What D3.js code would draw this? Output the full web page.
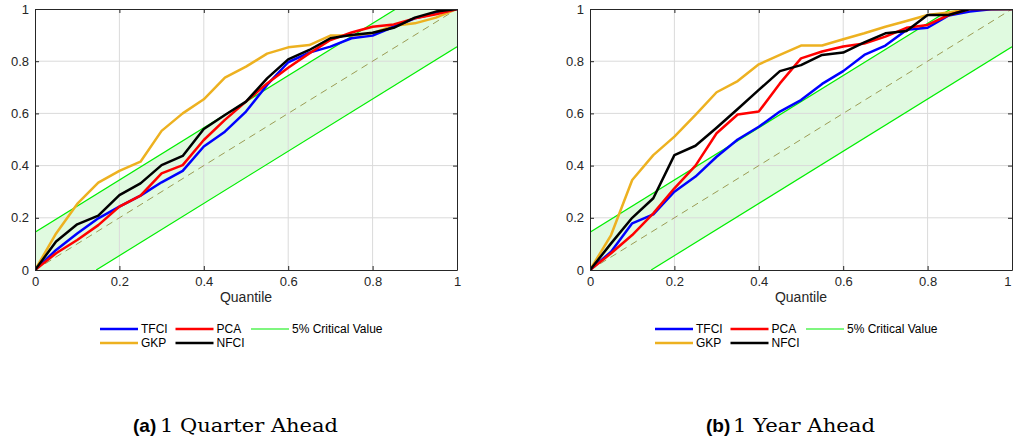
<!DOCTYPE html>
<html>
<head>
<meta charset="utf-8">
<script src="https://cdn.jsdelivr.net/npm/d3@7"></script>
<style>
  body { margin: 0; background: #fff; }
  svg { display: block; }
</style>
</head>
<body>
<svg id="chart" width="1013" height="442"></svg>
<script>
// Quantile grid shared by every curve
const quantiles = d3.range(0, 21).map(i => i / 20);

// Panel (a): 1 quarter ahead
const q1TFCI = [0, 0.077, 0.14, 0.198, 0.243, 0.285, 0.336, 0.38, 0.473, 0.53, 0.607, 0.709, 0.796, 0.833, 0.856, 0.888, 0.898, 0.932, 0.964, 0.983, 1];
const q1PCA  = [0, 0.064, 0.115, 0.172, 0.243, 0.285, 0.37, 0.402, 0.498, 0.575, 0.645, 0.715, 0.775, 0.83, 0.881, 0.91, 0.932, 0.941, 0.964, 0.98, 1];
const q1GKP  = [0, 0.14, 0.253, 0.335, 0.38, 0.415, 0.533, 0.6, 0.654, 0.737, 0.779, 0.829, 0.853, 0.862, 0.898, 0.898, 0.907, 0.936, 0.945, 0.967, 1];
const q1NFCI = [0, 0.109, 0.175, 0.208, 0.287, 0.332, 0.402, 0.437, 0.54, 0.594, 0.645, 0.734, 0.807, 0.843, 0.888, 0.9, 0.909, 0.928, 0.967, 0.99, 1];

// Panel (b): 1 year ahead
const y1TFCI = [0, 0.07, 0.179, 0.213, 0.3, 0.358, 0.434, 0.5, 0.549, 0.607, 0.651, 0.713, 0.762, 0.824, 0.86, 0.92, 0.928, 0.975, 0.99, 0.999, 1];
const y1PCA  = [0, 0.064, 0.134, 0.217, 0.313, 0.4, 0.524, 0.596, 0.607, 0.715, 0.811, 0.837, 0.856, 0.868, 0.894, 0.928, 0.939, 0.977, 1, 1, 1];
const y1GKP  = [0, 0.134, 0.345, 0.44, 0.511, 0.594, 0.681, 0.724, 0.788, 0.824, 0.86, 0.86, 0.884, 0.907, 0.932, 0.954, 0.977, 0.987, 1, 1, 1];
const y1NFCI = [0, 0.102, 0.2, 0.275, 0.44, 0.476, 0.545, 0.617, 0.69, 0.762, 0.785, 0.824, 0.833, 0.872, 0.907, 0.916, 0.977, 0.977, 1, 1, 1];

// 5% critical band half-width around the 45-degree line
const criticalValue = 0.145;

const tickValues = [0, 0.2, 0.4, 0.6, 0.8, 1];
const tickLabels = ["0", "0.2", "0.4", "0.6", "0.8", "1"];

const seriesColors = { TFCI: "#0000ff", PCA: "#ff0000", GKP: "#edb120", NFCI: "#000000" };
const criticalColor = "#00ee00";
const bandFill = "#e0fae0";

const panels = [
  { left: 35, caption: "1 Quarter Ahead", tag: "(a)", capX: 133, capW: 178,
    data: { TFCI: q1TFCI, PCA: q1PCA, GKP: q1GKP, NFCI: q1NFCI } },
  { left: 590, caption: "1 Year Ahead", tag: "(b)", capX: 706, capW: 142,
    data: { TFCI: y1TFCI, PCA: y1PCA, GKP: y1GKP, NFCI: y1NFCI } }
];

const plotW = 422, plotTop = 9, plotH = 261;
const svg = d3.select("#chart");
const axisColor = "#262626";
const fontSans = "'Liberation Sans', Arial, sans-serif";

panels.forEach((p, pi) => {
  const x = d3.scaleLinear().domain([0, 1]).range([p.left, p.left + plotW]);
  const y = d3.scaleLinear().domain([0, 1]).range([plotTop + plotH, plotTop]);
  const g = svg.append("g");

  const clipId = "clip" + pi;
  g.append("clipPath").attr("id", clipId).append("rect")
    .attr("x", x(0)).attr("y", y(1)).attr("width", plotW).attr("height", plotH);

  // critical-value band
  const band = [[0, 0], [0, criticalValue], [1 - criticalValue, 1], [1, 1], [1, 1 - criticalValue], [criticalValue, 0]];
  g.append("path")
    .attr("d", d3.line().x(d => x(d[0])).y(d => y(d[1]))(band) + "Z")
    .attr("fill", bandFill);

  // grid
  tickValues.slice(1, -1).forEach(t => {
    g.append("line").attr("x1", x(t)).attr("x2", x(t)).attr("y1", y(0)).attr("y2", y(1))
      .attr("stroke", "#dadada").attr("stroke-width", 1);
    g.append("line").attr("x1", x(0)).attr("x2", x(1)).attr("y1", y(t)).attr("y2", y(t))
      .attr("stroke", "#dadada").attr("stroke-width", 1);
  });

  const lines = g.append("g").attr("clip-path", `url(#${clipId})`);
  const ln = d3.line().x(d => x(d[0])).y(d => y(d[1]));

  // 45-degree reference
  lines.append("path").attr("d", ln([[0, 0], [1, 1]]))
    .attr("stroke", "#9c9c55").attr("stroke-width", 1).attr("stroke-dasharray", "7,5").attr("fill", "none");

  // critical lines
  lines.append("path").attr("d", ln([[0, criticalValue], [1 - criticalValue, 1]]))
    .attr("stroke", criticalColor).attr("stroke-width", 1.2).attr("fill", "none");
  lines.append("path").attr("d", ln([[criticalValue, 0], [1, 1 - criticalValue]]))
    .attr("stroke", criticalColor).attr("stroke-width", 1.2).attr("fill", "none");

  // series
  ["GKP", "TFCI", "PCA", "NFCI"].forEach(name => {
    const pts = quantiles.map((q, i) => [q, p.data[name][i]]);
    lines.append("path").attr("d", ln(pts))
      .attr("stroke", seriesColors[name]).attr("stroke-width", 2.5)
      .attr("stroke-linejoin", "round").attr("fill", "none");
  });

  // axes (box with inward ticks)
  const bottom = d3.axisBottom(x).tickValues(tickValues).tickFormat((d, i) => tickLabels[i]).tickSizeInner(-4).tickSizeOuter(0).tickPadding(7);
  const leftAx = d3.axisLeft(y).tickValues(tickValues).tickFormat((d, i) => tickLabels[i]).tickSizeInner(-4).tickSizeOuter(0).tickPadding(6);
  const top = d3.axisTop(x).tickValues(tickValues).tickFormat("").tickSizeInner(-4).tickSizeOuter(0);
  const rightAx = d3.axisRight(y).tickValues(tickValues).tickFormat("").tickSizeInner(-4).tickSizeOuter(0);

  [[bottom, `translate(0,${y(0)})`, "b"], [leftAx, `translate(${x(0)},0)`, "l"],
   [top, `translate(0,${y(1)})`, "t"], [rightAx, `translate(${x(1)},0)`, "r"]].forEach(([ax, tr, side]) => {
    const a = g.append("g").attr("transform", tr).call(ax);
    a.selectAll("path,line").attr("stroke", axisColor);
    a.select("path.domain").attr("stroke-width", 1);
    a.selectAll("text").attr("fill", axisColor).style("font-family", fontSans).style("font-size", "13px");
    if (side === "b" && pi === 1) {
      // keep the last label inside the page edge
      a.selectAll(".tick").filter(d => d === 1).select("text").attr("text-anchor", "end").attr("dx", "-1");
    }
  });

  g.append("text").attr("x", x(0.5)).attr("y", 302).attr("text-anchor", "middle")
    .attr("fill", axisColor).style("font-family", fontSans).style("font-size", "14px").text("Quantile");

  // legend
  const lx = p.left + 65;
  const legendItems = [
    { name: "TFCI", color: seriesColors.TFCI, col: 0, row: 0, w: 2.5 },
    { name: "PCA", color: seriesColors.PCA, col: 1, row: 0, w: 2.5 },
    { name: "5% Critical Value", color: criticalColor, col: 2, row: 0, w: 1.2 },
    { name: "GKP", color: seriesColors.GKP, col: 0, row: 1, w: 2.5 },
    { name: "NFCI", color: seriesColors.NFCI, col: 1, row: 1, w: 2.5 }
  ];
  legendItems.forEach(it => {
    const ix = lx + it.col * 75.5;
    const iy = 329 + it.row * 14;
    g.append("line").attr("x1", ix).attr("x2", ix + 38).attr("y1", iy).attr("y2", iy)
      .attr("stroke", it.color).attr("stroke-width", it.w);
    g.append("text").attr("x", ix + 41).attr("y", iy + 4).attr("fill", "#000")
      .style("font-family", fontSans).style("font-size", "12px").text(it.name);
  });

  // caption
  g.append("text").attr("x", p.capX).attr("y", 432)
    .style("font-family", "'Liberation Sans Narrow', 'Liberation Sans', sans-serif")
    .style("font-weight", "bold").style("font-size", "19px").attr("fill", "#000").text(p.tag);
  g.append("text").attr("x", p.capX + 27).attr("y", 432)
    .attr("textLength", p.capW).attr("lengthAdjust", "spacingAndGlyphs")
    .style("font-family", "'DejaVu Serif', 'Liberation Serif', serif")
    .style("font-size", "18px").attr("fill", "#000").text(p.caption);
});
</script>
</body>
</html>
